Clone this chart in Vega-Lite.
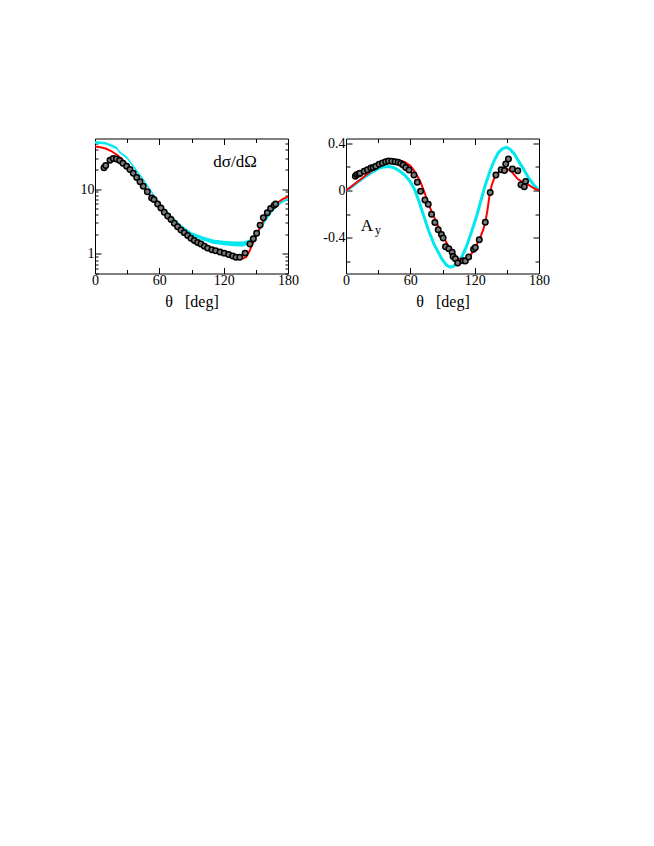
{
  "$schema": "https://vega.github.io/schema/vega-lite/v6.json",
  "background": "white",
  "padding": {"left": 80, "top": 135.5, "right": 5, "bottom": 5},
  "spacing": 23,
  "config": {
    "view": {"stroke": null},
    "font": "Liberation Serif",
    "axis": {
      "domainColor": "black", "domainWidth": 1, "tickColor": "black", "tickWidth": 1,
      "labelColor": "black", "labelFont": "Liberation Serif", "labelFontSize": 14,
      "titleFont": "Liberation Serif", "titleFontSize": 16, "titleFontWeight": "normal", "titleColor": "black",
      "grid": false, "labelFlush": false, "labelOverlap": false
    }
  },
  "datasets": {
    "cyL": [
      {"theta": 0, "lo": 50, "hi": 55},
      {"theta": 10, "lo": 48.5, "hi": 53},
      {"theta": 20, "lo": 41, "hi": 45},
      {"theta": 23, "lo": 35.5, "hi": 38.5},
      {"theta": 30, "lo": 28.7, "hi": 31.4},
      {"theta": 39, "lo": 18.2, "hi": 19.8},
      {"theta": 45, "lo": 13.4, "hi": 14.6},
      {"theta": 54, "lo": 8.05, "hi": 8.75},
      {"theta": 60, "lo": 5.85, "hi": 6.35},
      {"theta": 70, "lo": 3.73, "hi": 4.07},
      {"theta": 80, "lo": 2.58, "hi": 2.85},
      {"theta": 90, "lo": 1.94, "hi": 2.16},
      {"theta": 100, "lo": 1.63, "hi": 1.87},
      {"theta": 110, "lo": 1.44, "hi": 1.67},
      {"theta": 120, "lo": 1.36, "hi": 1.6},
      {"theta": 130, "lo": 1.31, "hi": 1.55},
      {"theta": 138, "lo": 1.3, "hi": 1.55},
      {"theta": 143, "lo": 1.4, "hi": 1.64},
      {"theta": 147, "lo": 1.58, "hi": 1.82},
      {"theta": 150, "lo": 1.82, "hi": 2.08},
      {"theta": 155, "lo": 2.45, "hi": 2.75},
      {"theta": 160, "lo": 3.3, "hi": 3.7},
      {"theta": 165, "lo": 4.3, "hi": 4.7},
      {"theta": 170, "lo": 5.35, "hi": 5.85},
      {"theta": 175, "lo": 6.15, "hi": 6.65},
      {"theta": 180, "lo": 6.75, "hi": 7.25}
    ],
    "redL": [
      {"theta": 0, "v": 45}, {"theta": 5, "v": 44}, {"theta": 10, "v": 42}, {"theta": 15, "v": 38.5},
      {"theta": 20, "v": 34}, {"theta": 25, "v": 29}, {"theta": 30, "v": 24}, {"theta": 35, "v": 19.3},
      {"theta": 40, "v": 14.8}, {"theta": 45, "v": 11.2}, {"theta": 50, "v": 8.6}, {"theta": 55, "v": 6.8},
      {"theta": 60, "v": 5.4}, {"theta": 65, "v": 4.25}, {"theta": 70, "v": 3.45}, {"theta": 75, "v": 2.82},
      {"theta": 80, "v": 2.36}, {"theta": 85, "v": 2.0}, {"theta": 90, "v": 1.74}, {"theta": 95, "v": 1.53},
      {"theta": 100, "v": 1.38}, {"theta": 105, "v": 1.25}, {"theta": 110, "v": 1.15}, {"theta": 115, "v": 1.08},
      {"theta": 120, "v": 1.02}, {"theta": 125, "v": 0.96}, {"theta": 130, "v": 0.9}, {"theta": 135, "v": 0.86},
      {"theta": 138, "v": 0.85}, {"theta": 141, "v": 0.9}, {"theta": 144, "v": 1.1}, {"theta": 147, "v": 1.45},
      {"theta": 150, "v": 1.9}, {"theta": 153, "v": 2.4}, {"theta": 156, "v": 3.0}, {"theta": 160, "v": 3.9},
      {"theta": 165, "v": 5.0}, {"theta": 170, "v": 6.1}, {"theta": 175, "v": 7.0}, {"theta": 180, "v": 7.6}
    ],
    "dsL": [
      {"theta": 8.4, "v": 21.3}, {"theta": 10, "v": 23}, {"theta": 14, "v": 27.8}, {"theta": 17, "v": 29.5},
      {"theta": 20, "v": 29}, {"theta": 23, "v": 27.5}, {"theta": 26, "v": 25}, {"theta": 29.5, "v": 22.5},
      {"theta": 32.6, "v": 20}, {"theta": 35.7, "v": 17.5}, {"theta": 38.9, "v": 15}, {"theta": 42, "v": 12.9},
      {"theta": 45, "v": 11}, {"theta": 48.8, "v": 9.1}, {"theta": 52.8, "v": 7.3}, {"theta": 55, "v": 6.9},
      {"theta": 58.4, "v": 5.9}, {"theta": 61.5, "v": 5.1}, {"theta": 64.6, "v": 4.4}, {"theta": 67.8, "v": 3.85},
      {"theta": 70.9, "v": 3.4}, {"theta": 74, "v": 2.98}, {"theta": 77, "v": 2.63}, {"theta": 80.2, "v": 2.34},
      {"theta": 83.3, "v": 2.13}, {"theta": 86.4, "v": 1.92}, {"theta": 89.5, "v": 1.75}, {"theta": 92.6, "v": 1.61},
      {"theta": 95.7, "v": 1.5}, {"theta": 98.8, "v": 1.42}, {"theta": 102, "v": 1.32}, {"theta": 105, "v": 1.23},
      {"theta": 109, "v": 1.16}, {"theta": 112.5, "v": 1.12}, {"theta": 116.6, "v": 1.07}, {"theta": 120.6, "v": 1.03},
      {"theta": 124.6, "v": 0.98}, {"theta": 128.4, "v": 0.93}, {"theta": 131.5, "v": 0.89}, {"theta": 135, "v": 0.89},
      {"theta": 140, "v": 1.03}, {"theta": 144.5, "v": 1.42}, {"theta": 147.7, "v": 1.71}, {"theta": 150.8, "v": 2.08},
      {"theta": 154, "v": 2.78}, {"theta": 157, "v": 3.6}, {"theta": 160.7, "v": 4.3}, {"theta": 163.8, "v": 5.0},
      {"theta": 167, "v": 5.6}, {"theta": 168.5, "v": 5.9}
    ],
    "cyR": [
      {"theta": 0, "a": 0}, {"theta": 5, "a": 0.03}, {"theta": 10, "a": 0.065}, {"theta": 15, "a": 0.1},
      {"theta": 20, "a": 0.13}, {"theta": 25, "a": 0.16}, {"theta": 30, "a": 0.185}, {"theta": 35, "a": 0.2},
      {"theta": 40, "a": 0.203}, {"theta": 45, "a": 0.192}, {"theta": 50, "a": 0.165}, {"theta": 55, "a": 0.13},
      {"theta": 60, "a": 0.075}, {"theta": 64, "a": 0.01}, {"theta": 68, "a": -0.09}, {"theta": 72, "a": -0.2},
      {"theta": 77, "a": -0.337}, {"theta": 82, "a": -0.45}, {"theta": 86.6, "a": -0.53}, {"theta": 90, "a": -0.585},
      {"theta": 94, "a": -0.63}, {"theta": 97.4, "a": -0.646}, {"theta": 100, "a": -0.64}, {"theta": 104, "a": -0.61},
      {"theta": 108, "a": -0.56}, {"theta": 112, "a": -0.48}, {"theta": 117.5, "a": -0.337}, {"theta": 122, "a": -0.21},
      {"theta": 126.7, "a": -0.056}, {"theta": 130, "a": 0.05}, {"theta": 134.4, "a": 0.168}, {"theta": 138, "a": 0.25},
      {"theta": 142, "a": 0.32}, {"theta": 146, "a": 0.355}, {"theta": 149.8, "a": 0.365}, {"theta": 153, "a": 0.35},
      {"theta": 157, "a": 0.31}, {"theta": 160.7, "a": 0.253}, {"theta": 165, "a": 0.19}, {"theta": 170, "a": 0.112},
      {"theta": 175, "a": 0.05}, {"theta": 180, "a": 0}
    ],
    "redR": [
      {"theta": 0, "a": 0}, {"theta": 5, "a": 0.035}, {"theta": 10, "a": 0.07}, {"theta": 15, "a": 0.105},
      {"theta": 20, "a": 0.14}, {"theta": 25, "a": 0.175}, {"theta": 30, "a": 0.205}, {"theta": 35, "a": 0.23},
      {"theta": 40, "a": 0.25}, {"theta": 45, "a": 0.258}, {"theta": 50, "a": 0.255}, {"theta": 55, "a": 0.24},
      {"theta": 60, "a": 0.21}, {"theta": 63, "a": 0.175}, {"theta": 66, "a": 0.13}, {"theta": 68, "a": 0.098},
      {"theta": 70, "a": 0.06}, {"theta": 73, "a": -0.01}, {"theta": 76, "a": -0.09}, {"theta": 80, "a": -0.18},
      {"theta": 83, "a": -0.24}, {"theta": 86.6, "a": -0.31}, {"theta": 90, "a": -0.38}, {"theta": 95, "a": -0.46},
      {"theta": 100, "a": -0.53}, {"theta": 102, "a": -0.555}, {"theta": 105, "a": -0.575}, {"theta": 110, "a": -0.587},
      {"theta": 113, "a": -0.58}, {"theta": 115, "a": -0.56}, {"theta": 118, "a": -0.52}, {"theta": 121, "a": -0.47},
      {"theta": 125, "a": -0.4}, {"theta": 128, "a": -0.33}, {"theta": 130, "a": -0.265}, {"theta": 132, "a": -0.16},
      {"theta": 134, "a": -0.03}, {"theta": 136, "a": 0.05}, {"theta": 139, "a": 0.12}, {"theta": 142, "a": 0.15},
      {"theta": 145, "a": 0.175}, {"theta": 148, "a": 0.19}, {"theta": 150, "a": 0.185}, {"theta": 155, "a": 0.155},
      {"theta": 160, "a": 0.1}, {"theta": 165, "a": 0.07}, {"theta": 170, "a": 0.05}, {"theta": 175, "a": 0.022},
      {"theta": 180, "a": 0}
    ],
    "dsR": [
      {"theta": 8.7, "a": 0.121}, {"theta": 9.9, "a": 0.135}, {"theta": 11.8, "a": 0.14}, {"theta": 13, "a": 0.146},
      {"theta": 17, "a": 0.163}, {"theta": 20, "a": 0.177}, {"theta": 23.2, "a": 0.19}, {"theta": 25.4, "a": 0.196},
      {"theta": 27.8, "a": 0.205}, {"theta": 31, "a": 0.222}, {"theta": 34, "a": 0.233}, {"theta": 37, "a": 0.244},
      {"theta": 39.6, "a": 0.25}, {"theta": 42.7, "a": 0.247}, {"theta": 45.8, "a": 0.244}, {"theta": 48.6, "a": 0.239},
      {"theta": 51, "a": 0.23}, {"theta": 53.2, "a": 0.216}, {"theta": 55.7, "a": 0.196}, {"theta": 58.8, "a": 0.174},
      {"theta": 63.4, "a": 0.132}, {"theta": 66.5, "a": 0.07}, {"theta": 69.6, "a": -0.005}, {"theta": 73.6, "a": -0.079},
      {"theta": 76.7, "a": -0.115}, {"theta": 79.8, "a": -0.2}, {"theta": 82.9, "a": -0.27}, {"theta": 86, "a": -0.33},
      {"theta": 89, "a": -0.37}, {"theta": 90.6, "a": -0.4}, {"theta": 92.8, "a": -0.475}, {"theta": 95.9, "a": -0.49},
      {"theta": 99, "a": -0.52}, {"theta": 99.9, "a": -0.556}, {"theta": 102, "a": -0.575}, {"theta": 104.2, "a": -0.612},
      {"theta": 109.2, "a": -0.592}, {"theta": 111.3, "a": -0.595}, {"theta": 114.4, "a": -0.56}, {"theta": 119, "a": -0.495},
      {"theta": 120.6, "a": -0.48}, {"theta": 124.3, "a": -0.415}, {"theta": 129.9, "a": -0.267}, {"theta": 134.5, "a": -0.016},
      {"theta": 139.8, "a": 0.132}, {"theta": 144.7, "a": 0.176}, {"theta": 147.8, "a": 0.17}, {"theta": 149, "a": 0.224},
      {"theta": 151.5, "a": 0.267}, {"theta": 155.2, "a": 0.182}, {"theta": 160.2, "a": 0.168}, {"theta": 163.2, "a": 0.05},
      {"theta": 166.3, "a": 0.033}, {"theta": 167.5, "a": 0.078}
    ]
  },
  "hconcat": [
    {
      "width": 193, "height": 135,
      "layer": [
        {
          "data": {"name": "cyL"},
          "mark": {"type": "area", "color": "#00e8f0", "clip": true},
          "encoding": {
            "x": {"field": "theta", "type": "quantitative", "scale": {"domain": [0, 180], "nice": false}, "axis": null},
            "y": {"field": "lo", "type": "quantitative", "scale": {"type": "log", "domain": [0.5, 60], "nice": false}, "axis": null},
            "y2": {"field": "hi"}
          }
        },
        {
          "data": {"name": "redL"},
          "mark": {"type": "line", "color": "#ff0000", "strokeWidth": 2, "clip": true},
          "encoding": {
            "x": {"field": "theta", "type": "quantitative", "scale": {"domain": [0, 180], "nice": false},
              "axis": {"orient": "bottom", "values": [0, 30, 60, 90, 120, 150, 180],
                "labelExpr": "datum.value % 60 === 0 ? datum.label : ''",
                "tickSize": {"condition": {"test": "datum.value % 60 === 0", "value": -6}, "value": -4},
                "labelPadding": 6, "title": "θ\u00a0\u00a0\u00a0[deg]", "titlePadding": 4}},
            "y": {"field": "v", "type": "quantitative", "scale": {"type": "log", "domain": [0.5, 60], "nice": false},
              "axis": {"orient": "left", "values": [0.5, 0.6, 0.7, 0.8, 0.9, 1, 2, 3, 4, 5, 6, 7, 8, 9, 10, 20, 30, 40, 50],
                "format": "~g",
                "labelExpr": "datum.value == 1 || datum.value == 10 ? datum.label : ''",
                "tickSize": {"condition": {"test": "datum.value == 1 || datum.value == 10", "value": -6}, "value": -3},
                "labelPadding": 7, "title": null}}
          }
        },
        {
          "data": {"name": "dsL"},
          "mark": {"type": "point", "shape": "circle", "filled": true, "fill": "#7a7a7a", "stroke": "black", "strokeWidth": 1.5, "size": 30, "opacity": 1},
          "encoding": {
            "x": {"field": "theta", "type": "quantitative", "scale": {"domain": [0, 180], "nice": false},
              "axis": {"orient": "top", "values": [0, 30, 60, 90, 120, 150, 180], "labels": false, "title": null,
                "tickSize": {"condition": {"test": "datum.value % 60 === 0", "value": -6}, "value": -4}}},
            "y": {"field": "v", "type": "quantitative", "scale": {"type": "log", "domain": [0.5, 60], "nice": false},
              "axis": {"orient": "right", "values": [0.5, 0.6, 0.7, 0.8, 0.9, 1, 2, 3, 4, 5, 6, 7, 8, 9, 10, 20, 30, 40, 50],
                "labels": false, "title": null,
                "tickSize": {"condition": {"test": "datum.value == 1 || datum.value == 10", "value": -6}, "value": -3}}}
          }
        },
        {
          "data": {"values": [{}]},
          "mark": {"type": "text", "text": "dσ/dΩ", "font": "Liberation Serif", "fontSize": 17, "align": "center", "baseline": "alphabetic", "color": "black"},
          "encoding": {
            "x": {"datum": 130.6, "type": "quantitative", "scale": {"domain": [0, 180], "nice": false}, "axis": null},
            "y": {"datum": 21.8, "type": "quantitative", "scale": {"type": "log", "domain": [0.5, 60], "nice": false}, "axis": null}
          }
        }
      ]
    },
    {
      "width": 193, "height": 135,
      "layer": [
        {
          "data": {"name": "cyR"},
          "mark": {"type": "line", "color": "#00e8f0", "strokeWidth": 3, "clip": true},
          "encoding": {
            "x": {"field": "theta", "type": "quantitative", "scale": {"domain": [0, 180], "nice": false}, "axis": null},
            "y": {"field": "a", "type": "quantitative", "scale": {"domain": [-0.7, 0.44], "nice": false, "zero": false}, "axis": null}
          }
        },
        {
          "data": {"name": "redR"},
          "mark": {"type": "line", "color": "#ff0000", "strokeWidth": 2, "clip": true},
          "encoding": {
            "x": {"field": "theta", "type": "quantitative", "scale": {"domain": [0, 180], "nice": false},
              "axis": {"orient": "bottom", "values": [0, 30, 60, 90, 120, 150, 180],
                "labelExpr": "datum.value % 60 === 0 ? datum.label : ''",
                "tickSize": {"condition": {"test": "datum.value % 60 === 0", "value": -6}, "value": -4},
                "labelPadding": 6, "title": "θ\u00a0\u00a0\u00a0[deg]", "titlePadding": 4}},
            "y": {"field": "a", "type": "quantitative", "scale": {"domain": [-0.7, 0.44], "nice": false, "zero": false},
              "axis": {"orient": "left", "values": [-0.6, -0.4, -0.2, 0, 0.2, 0.4],
                "labelExpr": "abs(datum.value) < 0.001 ? '0' : (abs(datum.value - 0.4) < 0.001 ? '0.4' : (abs(datum.value + 0.4) < 0.001 ? '-0.4' : ''))",
                "tickSize": {"condition": {"test": "abs(datum.value) < 0.001 || abs(abs(datum.value) - 0.4) < 0.001", "value": -6}, "value": -4},
                "labelPadding": 7, "title": null}}
          }
        },
        {
          "data": {"name": "dsR"},
          "mark": {"type": "point", "shape": "circle", "filled": true, "fill": "#7a7a7a", "stroke": "black", "strokeWidth": 1.5, "size": 30, "opacity": 1},
          "encoding": {
            "x": {"field": "theta", "type": "quantitative", "scale": {"domain": [0, 180], "nice": false},
              "axis": {"orient": "top", "values": [0, 30, 60, 90, 120, 150, 180], "labels": false, "title": null,
                "tickSize": {"condition": {"test": "datum.value % 60 === 0", "value": -6}, "value": -4}}},
            "y": {"field": "a", "type": "quantitative", "scale": {"domain": [-0.7, 0.44], "nice": false, "zero": false},
              "axis": {"orient": "right", "values": [-0.6, -0.4, -0.2, 0, 0.2, 0.4], "labels": false, "title": null,
                "tickSize": {"condition": {"test": "abs(datum.value) < 0.001 || abs(abs(datum.value) - 0.4) < 0.001", "value": -6}, "value": -4}}}
          }
        },
        {
          "data": {"values": [{}]},
          "mark": {"type": "text", "text": "A", "font": "Liberation Serif", "fontSize": 17, "align": "center", "baseline": "alphabetic", "color": "black"},
          "encoding": {
            "x": {"datum": 19.5, "type": "quantitative", "scale": {"domain": [0, 180], "nice": false}, "axis": null},
            "y": {"datum": -0.34, "type": "quantitative", "scale": {"domain": [-0.7, 0.44], "nice": false, "zero": false}, "axis": null}
          }
        },
        {
          "data": {"values": [{}]},
          "mark": {"type": "text", "text": "y", "font": "Liberation Serif", "fontSize": 12, "align": "left", "baseline": "alphabetic", "color": "black"},
          "encoding": {
            "x": {"datum": 27, "type": "quantitative", "scale": {"domain": [0, 180], "nice": false}, "axis": null},
            "y": {"datum": -0.37, "type": "quantitative", "scale": {"domain": [-0.7, 0.44], "nice": false, "zero": false}, "axis": null}
          }
        }
      ]
    }
  ]
}
